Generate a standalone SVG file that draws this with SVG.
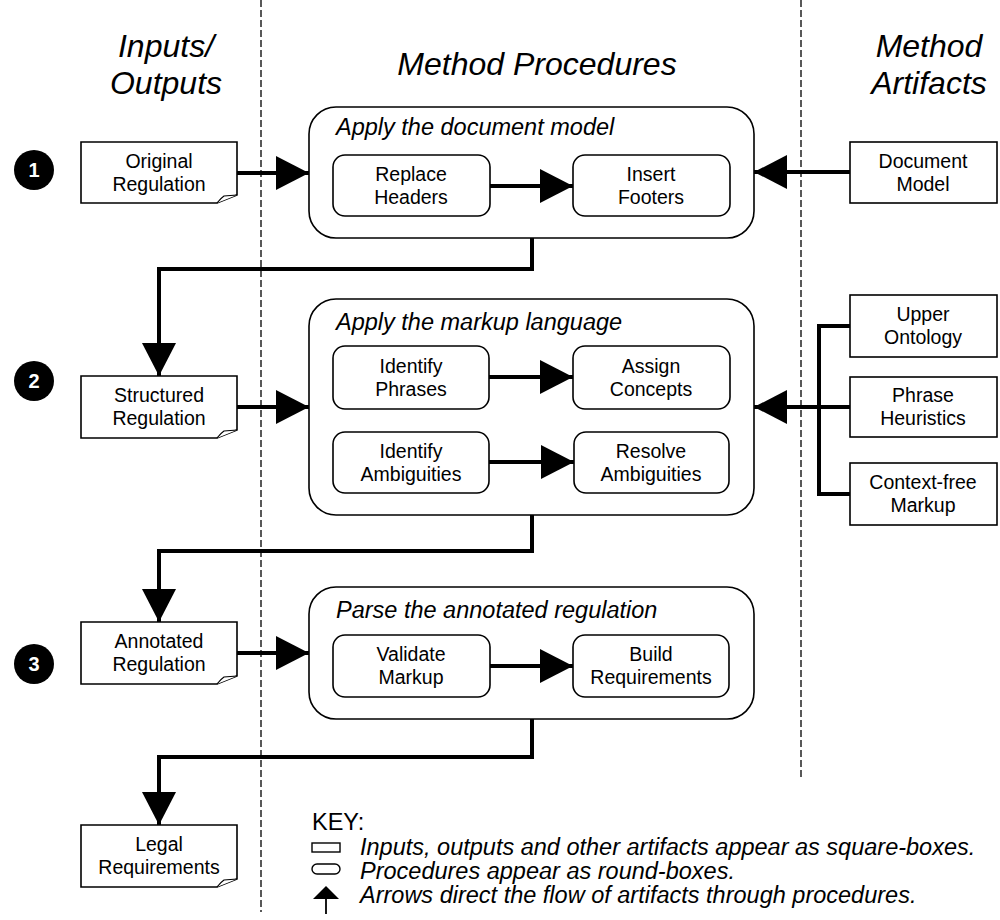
<svg xmlns="http://www.w3.org/2000/svg" width="1000" height="920" viewBox="0 0 1000 920">
<defs>
<marker id="ah" markerUnits="userSpaceOnUse" markerWidth="34" markerHeight="36" viewBox="0 0 34 36" refX="33" refY="18" orient="auto">
<path d="M0,1 L33,18 L0,35 Z" fill="#000"/>
</marker>
</defs>
<style>
text{font-family:"Liberation Sans",Arial,sans-serif;fill:#000}
.hdr{font-size:32px;font-style:italic;text-anchor:middle}
.ttl{font-size:23.5px;font-style:italic}
.lbl{font-size:19.5px;text-anchor:middle}
.num{font-size:20px;font-weight:bold;fill:#fff;text-anchor:middle}
.key{font-size:23.5px;font-style:italic}
.sq{fill:#fff;stroke:#000;stroke-width:1.6}
.outer{fill:#fff;stroke:#000;stroke-width:1.6}
.inner{fill:#fff;stroke:#000;stroke-width:1.6}
.conn{fill:none;stroke:#000;stroke-width:4;marker-end:url(#ah)}
.br{fill:none;stroke:#000;stroke-width:4}
.dash{stroke:#000;stroke-width:1.3;stroke-dasharray:7,3;fill:none}
.fold{fill:#fff;stroke:#000;stroke-width:1.2}
</style>
<rect width="1000" height="920" fill="#fff"/>

<g id="lanes">
<line class="dash" x1="261" y1="0" x2="261" y2="912"/>
<line class="dash" x1="801" y1="0" x2="801" y2="778"/>
<text class="hdr" x="166" y="57">Inputs/</text>
<text class="hdr" x="166" y="94">Outputs</text>
<text class="hdr" x="537" y="75">Method Procedures</text>
<text class="hdr" x="929" y="57">Method</text>
<text class="hdr" x="929" y="94">Artifacts</text>
</g>

<g id="step1"><circle cx="34" cy="170" r="20" fill="#000"/><text class="num" x="34" y="177">1</text></g>
<g id="step2"><circle cx="34" cy="381" r="20" fill="#000"/><text class="num" x="34" y="388">2</text></g>
<g id="step3"><circle cx="34" cy="664" r="20" fill="#000"/><text class="num" x="34" y="671">3</text></g>

<g id="original-regulation">
<path class="sq" d="M81,142 H237 V195 L217,203 H81 Z"/>
<path class="fold" d="M217,203 Q221,198 224,196 L237,195"/>
<text class="lbl" x="159" y="168">Original</text><text class="lbl" x="159" y="191">Regulation</text>
</g>
<g id="structured-regulation">
<path class="sq" d="M81,376 H237 V430 L217,438 H81 Z"/>
<path class="fold" d="M217,438 Q221,433 224,431 L237,430"/>
<text class="lbl" x="159" y="402">Structured</text><text class="lbl" x="159" y="425">Regulation</text>
</g>
<g id="annotated-regulation">
<path class="sq" d="M81,622 H237 V676 L217,684 H81 Z"/>
<path class="fold" d="M217,684 Q221,679 224,677 L237,676"/>
<text class="lbl" x="159" y="648">Annotated</text><text class="lbl" x="159" y="671">Regulation</text>
</g>
<g id="legal-requirements">
<path class="sq" d="M81,825 H237 V879 L217,887 H81 Z"/>
<path class="fold" d="M217,887 Q221,882 224,880 L237,879"/>
<text class="lbl" x="159" y="851">Legal</text><text class="lbl" x="159" y="874">Requirements</text>
</g>

<g id="apply-document-model">
<rect class="outer" x="309" y="107" width="445" height="131" rx="27"/>
<text class="ttl" x="336" y="135">Apply the document model</text>
<g id="replace-headers"><rect class="inner" x="333" y="155" width="157" height="61" rx="12"/>
<text class="lbl" x="411" y="181">Replace</text><text class="lbl" x="411" y="204">Headers</text></g>
<g id="insert-footers"><rect class="inner" x="573" y="155" width="157" height="61" rx="12"/>
<text class="lbl" x="651" y="181">Insert</text><text class="lbl" x="651" y="204">Footers</text></g>
</g>

<g id="apply-markup-language">
<rect class="outer" x="309" y="299" width="445" height="216" rx="27"/>
<text class="ttl" x="336" y="330">Apply the markup language</text>
<g id="identify-phrases"><rect class="inner" x="333" y="346" width="156" height="63" rx="12"/>
<text class="lbl" x="411" y="373">Identify</text><text class="lbl" x="411" y="396">Phrases</text></g>
<g id="assign-concepts"><rect class="inner" x="573" y="346" width="157" height="63" rx="12"/>
<text class="lbl" x="651" y="373">Assign</text><text class="lbl" x="651" y="396">Concepts</text></g>
<g id="identify-ambiguities"><rect class="inner" x="333" y="432" width="156" height="61" rx="12"/>
<text class="lbl" x="411" y="458">Identify</text><text class="lbl" x="411" y="481">Ambiguities</text></g>
<g id="resolve-ambiguities"><rect class="inner" x="574" y="432" width="155" height="61" rx="12"/>
<text class="lbl" x="651" y="458">Resolve</text><text class="lbl" x="651" y="481">Ambiguities</text></g>
</g>

<g id="parse-annotated-regulation">
<rect class="outer" x="309" y="587" width="445" height="132" rx="27"/>
<text class="ttl" x="336" y="618">Parse the annotated regulation</text>
<g id="validate-markup"><rect class="inner" x="333" y="635" width="157" height="62" rx="12"/>
<text class="lbl" x="411" y="661">Validate</text><text class="lbl" x="411" y="684">Markup</text></g>
<g id="build-requirements"><rect class="inner" x="573" y="635" width="156" height="62" rx="12"/>
<text class="lbl" x="651" y="661">Build</text><text class="lbl" x="651" y="684">Requirements</text></g>
</g>

<g id="document-model"><rect class="sq" x="850" y="142" width="147" height="61"/>
<text class="lbl" x="923" y="168">Document</text><text class="lbl" x="923" y="191">Model</text></g>
<g id="upper-ontology"><rect class="sq" x="850" y="295" width="147" height="62"/>
<text class="lbl" x="923" y="321">Upper</text><text class="lbl" x="923" y="344">Ontology</text></g>
<g id="phrase-heuristics"><rect class="sq" x="850" y="377" width="147" height="60"/>
<text class="lbl" x="923" y="402">Phrase</text><text class="lbl" x="923" y="425">Heuristics</text></g>
<g id="context-free-markup"><rect class="sq" x="850" y="463" width="147" height="62"/>
<text class="lbl" x="923" y="489">Context-free</text><text class="lbl" x="923" y="512">Markup</text></g>

<g id="connectors">
<path class="conn" d="M237,173 H309"/>
<path class="conn" d="M850,172 H754"/>
<path class="conn" d="M490,186 H573"/>
<path class="conn" d="M532,238 V269 H159 V376"/>
<path class="conn" d="M237,407 H309"/>
<path class="conn" d="M489,377 H573"/>
<path class="conn" d="M489,462 H574"/>
<path class="br" d="M850,326 H819 V494 H850"/>
<path class="conn" d="M850,407 H754"/>
<path class="conn" d="M532,515 V551 H159 V622"/>
<path class="conn" d="M237,653 H309"/>
<path class="conn" d="M490,666 H573"/>
<path class="conn" d="M532,719 V757 H159 V825"/>
</g>

<g id="key">
<text x="312" y="830" style="font-size:23.5px">KEY:</text>
<rect x="312" y="843" width="28" height="9" fill="#fff" stroke="#000" stroke-width="1.4"/>
<text class="key" x="360" y="855">Inputs, outputs and other artifacts appear as square-boxes.</text>
<rect x="312" y="864" width="28" height="10" rx="5" fill="#fff" stroke="#000" stroke-width="1.4"/>
<text class="key" x="360" y="879">Procedures appear as round-boxes.</text>
<path d="M313,899 L326,886 L339,899 Z" fill="#000"/>
<line x1="326" y1="898" x2="326" y2="914" stroke="#000" stroke-width="1.8"/>
<text class="key" x="360" y="903">Arrows direct the flow of artifacts through procedures.</text>
</g>
</svg>
